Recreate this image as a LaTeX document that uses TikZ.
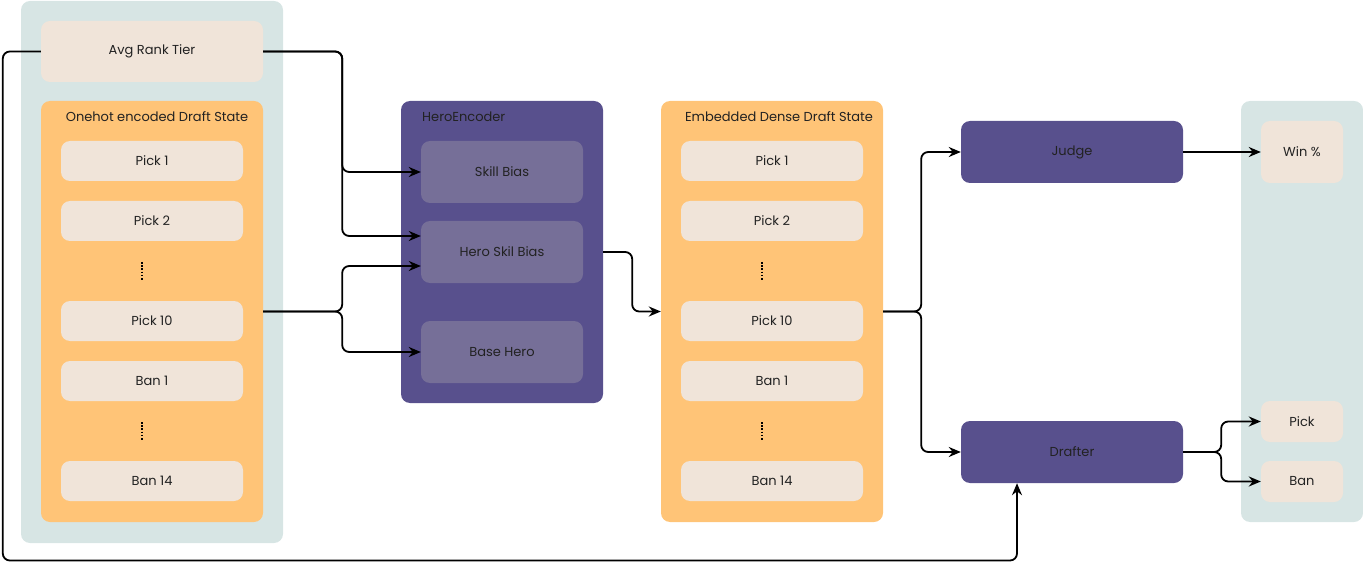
\documentclass[tikz,border=0pt]{standalone}
\usepackage{fontspec}
\setmainfont{Poppins}
\usetikzlibrary{arrows.meta,calc}
\definecolor{bgblue}{HTML}{D7E5E4}
\definecolor{beige}{HTML}{F0E4D9}
\definecolor{orng}{HTML}{FFC477}
\definecolor{purp}{HTML}{58508D}
\definecolor{lpurp}{HTML}{766F98}
\definecolor{ink}{HTML}{222222}
\begin{document}
\begin{tikzpicture}[x=1pt,y=-1pt,
  font=\fontsize{13}{15}\selectfont, text=ink,
  panel/.style={rectangle, rounded corners=9pt, inner sep=0pt, fill=#1},
  item/.style={rectangle, rounded corners=9pt, inner sep=0pt, fill=beige, minimum width=182pt, minimum height=40pt},
  hitem/.style={rectangle, rounded corners=9pt, inner sep=0pt, fill=lpurp, minimum width=162pt, minimum height=62pt},
  conn/.style={draw=black, line width=1.8pt, rounded corners=7pt, -{Stealth[length=12pt,width=10pt]}},
  dots/.style={draw=black, line width=1.6pt, dash pattern=on 1.6pt off 1.6pt}
]
\useasboundingbox (0,0) rectangle (1363,564);

% panels
\node[panel=bgblue, minimum width=262pt, minimum height=542pt] (leftbg) at (152,272) {};
\node[panel=bgblue, minimum width=122pt, minimum height=421pt] (rightbg) at (1302,311.5) {};
\node[item, minimum width=222pt, minimum height=61pt] (avg) at (152,51.5) {Avg Rank Tier};
\node[panel=orng, minimum width=222pt, minimum height=421pt] (onehot) at (152,311.5) {};
\node (onehottitle) at (157,117) {Onehot encoded Draft State};
\node[panel=orng, minimum width=222pt, minimum height=421pt] (embed) at (772,311.5) {};
\node (embedtitle) at (779,117) {Embedded Dense Draft State};
\node[panel=purp, minimum width=202pt, minimum height=302pt] (henc) at (502,252) {};
\node[anchor=west, inner sep=0pt] (henctitle) at (422,117) {HeroEncoder};

% left column items
\node[item] (p1) at (152,161) {Pick 1};
\node[item] (p2) at (152,221) {Pick 2};
\node[item] (p10) at (152,321) {Pick 10};
\node[item] (b1) at (152,381) {Ban 1};
\node[item] (b14) at (152,481) {Ban 14};
\draw[dots] (142,262) -- (142,281);
\draw[dots] (142,422) -- (142,441);

% embedded items
\node[item] (ep1) at (772,161) {Pick 1};
\node[item] (ep2) at (772,221) {Pick 2};
\node[item] (ep10) at (772,321) {Pick 10};
\node[item] (eb1) at (772,381) {Ban 1};
\node[item] (eb14) at (772,481) {Ban 14};
\draw[dots] (762,262) -- (762,281);
\draw[dots] (762,422) -- (762,441);

% hero encoder items
\node[hitem] (sb) at (502,172) {Skill Bias};
\node[hitem] (hsb) at (502,252) {Hero Skil Bias};
\node[hitem] (bh) at (502,352) {Base Hero};

% judge / drafter
\node[panel=purp, minimum width=222pt, minimum height=62pt] (judge) at (1072,152) {Judge};
\node[panel=purp, minimum width=222pt, minimum height=62pt] (drafter) at (1072,452) {Drafter};

% outputs
\node[item, minimum width=82pt, minimum height=62pt] (win) at (1302,152) {Win \%};
\node[item, minimum width=82pt, minimum height=41pt] (opick) at (1302,421.5) {Pick};
\node[item, minimum width=82pt, minimum height=41pt] (oban) at (1302,481.5) {Ban};

% connectors
\draw[conn] (avg.east) -- ++(79,0) |- (sb.west);
\draw[conn] (avg.east) -- ++(79,0) |- ([yshift=16pt]hsb.west);
\draw[conn] (avg.west) -- ++(-38,0) -- ++(0,509) -| ([xshift=-55pt]drafter.south);
\draw[conn] (onehot.east) -- ++(79,0) |- ([yshift=-14pt]hsb.west);
\draw[conn] (onehot.east) -- ++(79,0) |- (bh.west);
\draw[conn] (hsb.east -| henc.east) -- ++(29,0) |- (embed.west);
\draw[conn] (embed.east) -- ++(38,0) |- (judge.west);
\draw[conn] (embed.east) -- ++(38,0) |- (drafter.west);
\draw[conn] (judge.east) -- (win.west);
\draw[conn] (drafter.east) -- ++(38,0) |- (opick.west);
\draw[conn] (drafter.east) -- ++(38,0) |- (oban.west);
\end{tikzpicture}
\end{document}
